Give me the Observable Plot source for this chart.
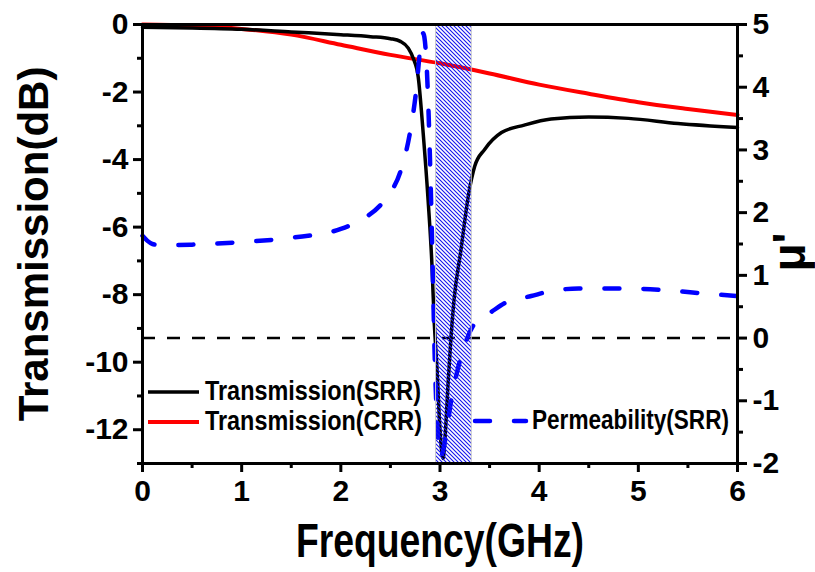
<!DOCTYPE html>
<html>
<head>
<meta charset="utf-8">
<script src="https://cdn.jsdelivr.net/npm/d3@7"></script>
<script src="https://cdn.jsdelivr.net/npm/@observablehq/plot@0.6"></script>
<style>
  html, body { margin: 0; padding: 0; background: #fff; }
  #chart { width: 815px; height: 572px; }
</style>
</head>
<body>
<div id="chart"></div>
<script>
// Transmission of the SRR sample (dB) versus frequency (GHz)
const freqSRR  = [0, 0.5, 1.0, 1.5, 2.0, 2.3, 2.5, 2.6, 2.68, 2.73, 2.78, 2.83, 2.88, 2.92, 2.94, 2.97, 3.0, 3.03, 3.06, 3.08, 3.11, 3.14, 3.21, 3.29, 3.35, 3.45, 3.62, 3.85, 4.12, 4.5, 4.9, 5.4, 6.0];
const transSRR = [-0.08, -0.1, -0.14, -0.22, -0.3, -0.36, -0.42, -0.5, -0.7, -1.0, -1.55, -3.2, -5.2, -7.2, -8.7, -10.2, -12.0, -12.85, -11.8, -10.7, -9.3, -8.2, -6.7, -5.0, -4.2, -3.7, -3.2, -2.98, -2.8, -2.74, -2.78, -2.93, -3.05];

// Transmission of the CRR sample (dB)
const freqCRR  = [0, 0.5, 1.0, 1.5, 2.0, 2.5, 3.0, 3.5, 4.0, 4.5, 5.0, 5.5, 6.0];
const transCRR = [0, -0.03, -0.13, -0.3, -0.6, -0.9, -1.15, -1.45, -1.78, -2.05, -2.3, -2.5, -2.68];

// Real part of the permeability of the SRR sample (right axis)
const freqPerm = [0, 0.05, 0.1, 0.2, 0.5, 1.0, 1.5, 2.0, 2.2, 2.4, 2.5, 2.6, 2.7, 2.76, 2.8, 2.83, 2.86, 2.88, 2.91, 2.93, 2.945, 2.97, 3.0, 3.03, 3.06, 3.11, 3.18, 3.26, 3.34, 3.52, 3.68, 3.92, 4.09, 4.4, 4.9, 5.3, 5.67, 6.0];
const permSRR  = [1.63, 1.55, 1.5, 1.48, 1.49, 1.53, 1.6, 1.74, 1.88, 2.12, 2.32, 2.65, 3.3, 3.95, 4.6, 4.86, 4.5, 3.8, 2.2, 0.86, -0.2, -1.3, -1.9, -1.8, -1.55, -1.02, -0.49, -0.06, 0.21, 0.42, 0.58, 0.67, 0.74, 0.79, 0.79, 0.76, 0.71, 0.67];

// Negative-permeability band (GHz)
const bandGHz = [2.96, 3.32];

// Axis ticks
const xTicks      = [0, 1, 2, 3, 4, 5, 6];
const xMinorTicks = [0.5, 1.5, 2.5, 3.5, 4.5, 5.5];
const dbTicks      = [0, -2, -4, -6, -8, -10, -12];
const dbMinorTicks = [-1, -3, -5, -7, -9, -11, -13];
const muTicks      = [5, 4, 3, 2, 1, 0, -1, -2];
const muMinorTicks = [4.5, 3.5, 2.5, 1.5, 0.5, -0.5, -1.5];

// Text
const seriesNames = ["Transmission(SRR)", "Transmission(CRR)", "Permeability(SRR)"];
const xTitle = "Frequency(GHz)";
const yTitle = "Transmission(dB)";
const y2Title = "\u03BC'";

// The right axis (μ' from -2 to 5) shares the left axis range (-13 to 0 dB)
const muToDb = mu => (mu - 5) * 13 / 7;
const dbToMu = db => 5 + db * 7 / 13;

const srr  = freqSRR.map((f, i) => ({f, v: transSRR[i]}));
const crr  = freqCRR.map((f, i) => ({f, v: transCRR[i]}));
const perm = freqPerm.map((f, i) => ({f, v: muToDb(permSRR[i])}));

const FONT = '"Liberation Sans", Arial, Helvetica, sans-serif';
const RED = "#ff0000", BLUE = "#0000ff";

const fmt = d => String(d);

const svg = Plot.plot({
  width: 815,
  height: 572,
  marginLeft: 142,
  marginRight: 78,
  marginTop: 24,
  marginBottom: 109,
  style: {fontFamily: FONT, fontSize: "30px", fontWeight: "bold", background: "#fff", color: "#000", overflow: "visible"},
  x: {domain: [0, 6], label: null},
  y: {domain: [-13, 0], label: null},
  marks: [
    // μ' = 0 reference
    Plot.ruleY([muToDb(0)], {stroke: "#000", strokeWidth: 2.5, strokeDasharray: "13,12"}),
    Plot.line(crr, {x: "f", y: "v", stroke: RED, strokeWidth: 4, curve: "monotone-x"}),
    Plot.line(srr, {x: "f", y: "v", stroke: "#000", strokeWidth: 3.5, curve: "monotone-x"}),
    Plot.line(perm, {x: "f", y: "v", stroke: BLUE, strokeWidth: 4.5, strokeDasharray: "15,24", strokeLinecap: "round", curve: "monotone-x"}),
    // hatched band where μ' < 0
    Plot.rect([{x1: bandGHz[0], x2: bandGHz[1]}], {x1: "x1", x2: "x2", fill: "url(#hatch)", stroke: "#c8c8c8", strokeWidth: 1}),
    Plot.frame({stroke: "#000", strokeWidth: 3}),
    // bottom axis
    Plot.axisX({ticks: xTicks, tickSize: 9, tickPadding: 7, tickFormat: fmt, strokeWidth: 3, fontSize: 30, fontWeight: "bold", label: null}),
    Plot.axisX({ticks: xMinorTicks, tickSize: 5, tickFormat: () => "", strokeWidth: 3, label: null}),
    // left axis
    Plot.axisY({ticks: dbTicks, tickSize: 9, tickPadding: 5, tickFormat: fmt, strokeWidth: 3, fontSize: 30, fontWeight: "bold", label: null}),
    Plot.axisY({ticks: dbMinorTicks, tickSize: 5, tickFormat: () => "", strokeWidth: 3, label: null}),
    // right axis (μ')
    Plot.axisY({anchor: "right", ticks: muTicks.map(muToDb), tickFormat: d => fmt(Math.round(dbToMu(d))), tickSize: 9, tickPadding: 6, strokeWidth: 3, fontSize: 30, fontWeight: "bold", label: null}),
    Plot.axisY({anchor: "right", ticks: muMinorTicks.map(muToDb), tickSize: 5, tickFormat: () => "", strokeWidth: 3, label: null}),
    // axis titles
    Plot.text([xTitle], {frameAnchor: "bottom", lineAnchor: "middle", textAnchor: "middle", dy: 78, fontSize: 48, fontWeight: "bold", fill: "#000"}),
    Plot.text([yTitle], {frameAnchor: "left", lineAnchor: "middle", textAnchor: "middle", rotate: -90, dx: -108, fontSize: 42, fontWeight: "bold", fill: "#000"}),
    Plot.text([y2Title], {frameAnchor: "right", lineAnchor: "middle", textAnchor: "middle", rotate: -90, dx: 53, dy: 8, fontSize: 46, fontWeight: "bold", fill: "#000"})
  ]
});

const s = d3.select(svg);

// condensed look of the horizontal title
s.selectAll("text")
  .filter(function() { return this.textContent === xTitle; })
  .attr("textLength", 288)
  .attr("lengthAdjust", "spacingAndGlyphs");

// hatch pattern for the band
const defs = s.insert("defs", ":first-child");
const pat = defs.append("pattern")
  .attr("id", "hatch")
  .attr("patternUnits", "userSpaceOnUse")
  .attr("width", 4).attr("height", 4);
pat.append("path")
  .attr("d", "M-1,-1L5,5M3,-1L5,1M-1,3L1,5")
  .attr("stroke", "#1414ee")
  .attr("stroke-width", 1.1)
  .attr("fill", "none");

// legend
const lg = s.append("g")
  .attr("font-family", FONT)
  .attr("font-size", 27)
  .attr("font-weight", "bold")
  .attr("text-anchor", "start");
const items = [
  {name: seriesNames[0], color: "#000", w: 3.5, dash: null, x: 148, y: 392, len: 216},
  {name: seriesNames[1], color: RED, w: 4, dash: null, x: 148, y: 422, len: 217},
  {name: seriesNames[2], color: BLUE, w: 4.5, dash: "15,24", x: 475, y: 421, len: 197}
];
for (const it of items) {
  lg.append("line")
    .attr("x1", it.x).attr("x2", it.x + 51)
    .attr("y1", it.y).attr("y2", it.y)
    .attr("stroke", it.color)
    .attr("stroke-width", it.w)
    .attr("stroke-linecap", it.dash ? "round" : "butt")
    .attr("stroke-dasharray", it.dash);
  lg.append("text")
    .attr("x", it.x + 57)
    .attr("y", it.y + 8)
    .attr("fill", "#000")
    .attr("text-anchor", "start")
    .attr("textLength", it.len)
    .attr("lengthAdjust", "spacingAndGlyphs")
    .text(it.name);
}

document.getElementById("chart").appendChild(svg);
</script>
</body>
</html>
